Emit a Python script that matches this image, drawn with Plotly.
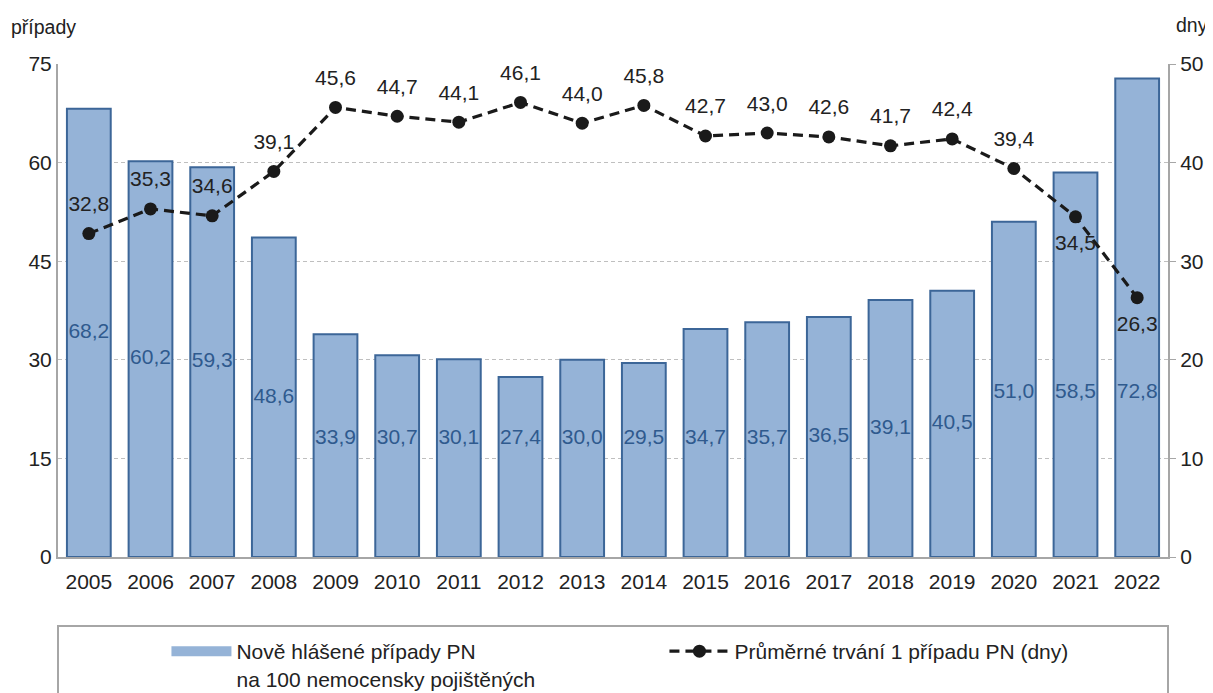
import plotly.graph_objects as go

years = ["2005", "2006", "2007", "2008", "2009", "2010", "2011", "2012", "2013",
         "2014", "2015", "2016", "2017", "2018", "2019", "2020", "2021", "2022"]
cases = [68.2, 60.2, 59.3, 48.6, 33.9, 30.7, 30.1, 27.4, 30.0, 29.5,
         34.7, 35.7, 36.5, 39.1, 40.5, 51.0, 58.5, 72.8]
days = [32.8, 35.3, 34.6, 39.1, 45.6, 44.7, 44.1, 46.1, 44.0, 45.8,
        42.7, 43.0, 42.6, 41.7, 42.4, 39.4, 34.5, 26.3]
left_ticks = [0, 15, 30, 45, 60, 75]
right_ticks = [0, 10, 20, 30, 40, 50]

FONT = "Liberation Sans, Arial, sans-serif"
FS = 21
BAR_FILL = "#95B3D7"
BAR_EDGE = "#3C6698"
fmt = lambda v: f"{v:.1f}".replace(".", ",")

# bar value labels: centred in the bar for the first years, otherwise kept in a
# low band so they do not collide with the line labels
label_y = [v / 2 if i < 4 else max(min(v / 2, 25), 18) for i, v in enumerate(cases)]

fig = go.Figure()
fig.add_trace(go.Bar(
    x=years, y=cases, name="Nově hlášené případy PN<br>na 100 nemocensky pojištěných",
    marker=dict(color=BAR_FILL, line=dict(color=BAR_EDGE, width=2)),
    width=0.71, showlegend=False, legendgroup="bars",
))
# legend entry for the bars drawn as a wide swatch
fig.add_trace(go.Scatter(
    x=[None], y=[None], mode="lines", legendgroup="bars",
    name="Nově hlášené případy PN<br>na 100 nemocensky pojištěných",
    line=dict(color=BAR_FILL, width=14),
))
fig.add_trace(go.Scatter(
    x=years, y=label_y, mode="text", text=[fmt(v) for v in cases],
    textposition="middle center", showlegend=False, hoverinfo="skip",
    textfont=dict(color="#2F5A8E", size=FS, family=FONT),
))
fig.add_trace(go.Scatter(
    x=years, y=days, yaxis="y2", name="Průměrné trvání 1 případu PN (dny)",
    mode="lines+markers",
    line=dict(color="#1a1a1a", width=3.2, dash="10px,6px"),
    marker=dict(color="#1a1a1a", size=13),
    cliponaxis=False,
))
# line value labels (transparent markers set the label offset)
fig.add_trace(go.Scatter(
    x=years, y=days, yaxis="y2", mode="markers+text", showlegend=False, hoverinfo="skip",
    marker=dict(size=26, opacity=0),
    text=[fmt(v) for v in days],
    textposition=["top center"] * 16 + ["bottom center"] * 2,
    textfont=dict(color="#222222", size=FS, family=FONT),
    cliponaxis=False,
))

fig.update_layout(
    width=1205, height=685,
    margin=dict(l=50, r=45, t=56, b=136, autoexpand=False),
    paper_bgcolor="white", plot_bgcolor="white",
    font=dict(family=FONT, size=FS, color="#222222"),
    showlegend=True,
    legend=dict(orientation="h", x=0.0977, xanchor="left", yref="container",
                y=0.0905, yanchor="top",
                font=dict(size=FS, family=FONT, color="#222222"),
                entrywidth=423, entrywidthmode="pixels", itemwidth=60,
                bgcolor="rgba(0,0,0,0)", valign="top", traceorder="normal"),
    xaxis=dict(range=[-0.5, 17.5], showline=True, linecolor="#A6A6A6", linewidth=2,
               ticks="", tickfont=dict(size=FS), showgrid=False, automargin=False,
               ticklabelstandoff=5),
    yaxis=dict(range=[0, 75], tickvals=left_ticks, showline=True, linecolor="#A6A6A6",
               linewidth=2, ticks="", showgrid=True, gridcolor="#BFBFBF",
               griddash="4px,3px", gridwidth=1, tickfont=dict(size=FS), zeroline=False,
               automargin=False),
    yaxis2=dict(range=[0, 50], tickvals=right_ticks, overlaying="y", side="right",
                showline=True, linecolor="#A6A6A6", linewidth=2, ticks="outside",
                ticklen=6, tickcolor="#A6A6A6", showgrid=False, zeroline=False,
                tickfont=dict(size=FS), automargin=False),
    annotations=[
        dict(text="případy", xref="paper", yref="paper", x=-0.044, y=1.075,
             xanchor="left", yanchor="middle", showarrow=False, font=dict(size=19.5)),
        dict(text="dny", xref="paper", yref="paper", x=1.038, y=1.079,
             xanchor="right", yanchor="middle", showarrow=False, font=dict(size=19.5)),
    ],
    shapes=[dict(type="rect", xref="paper", yref="paper", x0=0, x1=1, y0=-0.4, y1=-0.14,
                 line=dict(color="#A6A6A6", width=2), fillcolor="rgba(0,0,0,0)", layer="below")],
)

fig.write_html("out.html")
